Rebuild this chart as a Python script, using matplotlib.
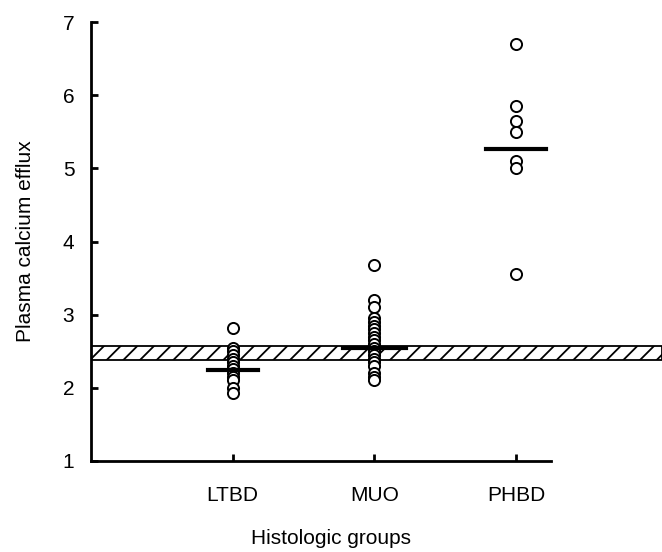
import matplotlib.pyplot as plt

plt.rcParams['font.family'] = ['Liberation Sans', 'DejaVu Sans']
plt.rcParams['hatch.linewidth'] = 1.3

# data
groups = ["LTBD", "MUO", "PHBD"]
ltbd = [2.82, 2.55, 2.5, 2.45, 2.4, 2.35, 2.3, 2.25, 2.2, 2.15, 2.1, 2.0, 1.93]
muo = [3.68, 3.2, 3.1, 2.95, 2.9, 2.85, 2.8, 2.75, 2.7, 2.65, 2.6, 2.55,
       2.5, 2.45, 2.4, 2.35, 2.3, 2.2, 2.15, 2.1]
phbd = [6.7, 5.85, 5.65, 5.5, 5.1, 5.0, 3.55]
means = [2.24, 2.55, 5.27]
mean_halfwidth = [0.175, 0.22, 0.21]
normal_band = (2.38, 2.57)

fig = plt.figure(figsize=(6.62, 5.52), dpi=100)
ax = fig.add_axes([0.1375, 0.165, 0.8625, 0.795])

# normal range band
ax.axhspan(normal_band[0], normal_band[1], facecolor='white', edgecolor='black',
           hatch='//', linewidth=1.3, zorder=1)

for i, vals in enumerate([ltbd, muo, phbd]):
    x = i + 1
    ax.plot([x] * len(vals), vals, 'o', markerfacecolor='white',
            markeredgecolor='black', markersize=8, markeredgewidth=1.4, zorder=3)
    ax.plot([x - mean_halfwidth[i], x + mean_halfwidth[i]], [means[i], means[i]],
            color='black', linewidth=3, zorder=4)

ax.set_xlim(0, 4.03)
ax.set_ylim(1, 7)
ax.set_xticks([1, 2, 3])
ax.set_xticklabels(groups)
ax.set_yticks(range(1, 8))

for s in ['top', 'right']:
    ax.spines[s].set_visible(False)
ax.spines['left'].set_linewidth(2)
ax.spines['bottom'].set_linewidth(2)
ax.spines['bottom'].set_bounds(0, 3.25)

ax.tick_params(direction='in', length=5, width=2, labelsize=15)
ax.tick_params(axis='x', pad=18)
ax.tick_params(axis='y', pad=12)

ax.set_ylabel("Plasma calcium efflux", fontsize=15, labelpad=20)
ax.set_xlabel("Histologic groups", fontsize=15)
ax.xaxis.set_label_coords(0.42, -0.155)

fig.savefig("out.png", dpi=100)
